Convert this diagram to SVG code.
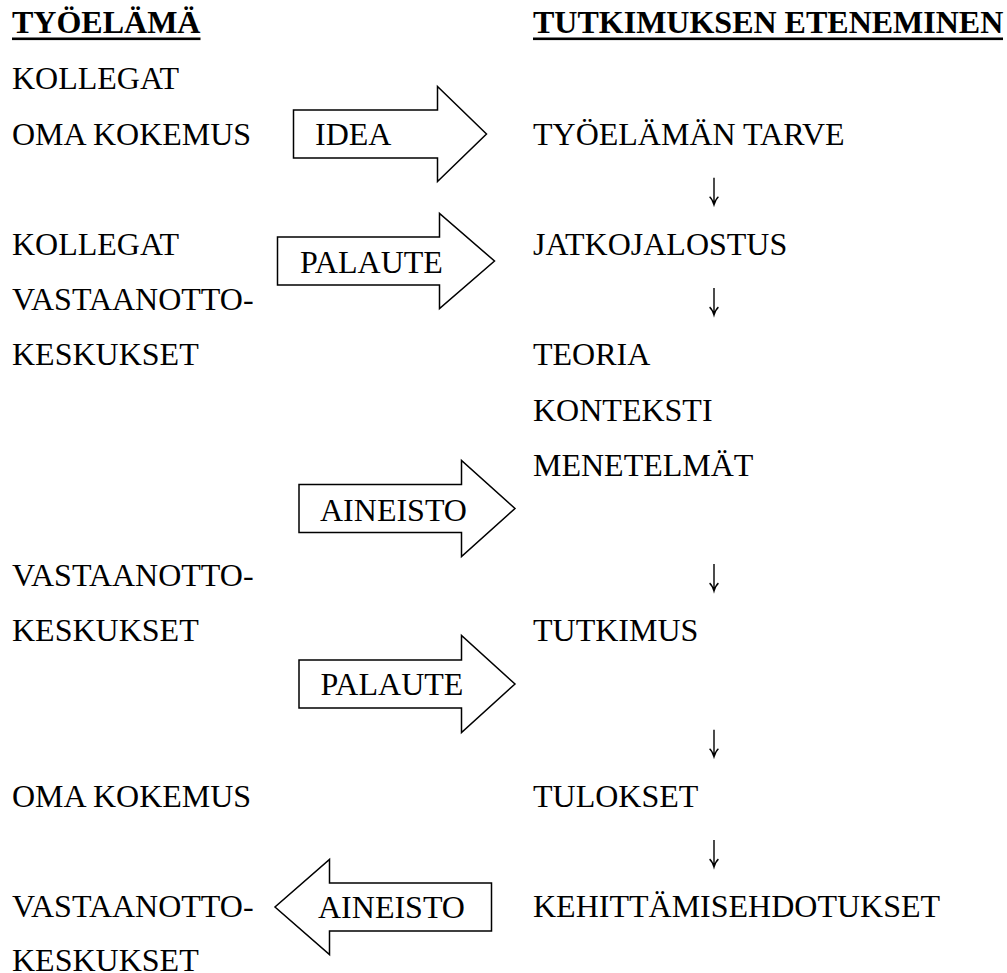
<svg xmlns="http://www.w3.org/2000/svg" width="1007" height="973" viewBox="0 0 1007 973">
<style>
text{font-family:"Liberation Serif","Times New Roman",serif;font-size:32px;font-weight:normal;fill:#000}
text.h{font-weight:bold}
.arr{fill:#fff;stroke:#000;stroke-width:1.5;stroke-linejoin:miter}
.dn{fill:none;stroke:#000;stroke-width:1.4}
</style>
<defs>
<g id="down"><path class="dn" d="M714,-22 V4.5 M709.6,-3 Q712.5,-0.5 714,5 Q715.5,-0.5 718.4,-3"/></g>
</defs>
<rect x="0" y="0" width="1007" height="973" fill="#fff"/>
<g id="heading-left"><text class="h" x="12" y="33">TYÖELÄMÄ</text><rect x="12" y="37.5" width="188.5" height="2.6" fill="#000"/></g>
<g id="heading-right"><text class="h" x="533" y="33">TUTKIMUKSEN ETENEMINEN</text><rect x="533" y="37.5" width="470" height="2.6" fill="#000"/></g>
<g id="left-kollegat-1"><text x="12" y="89.3">KOLLEGAT</text></g>
<g id="left-oma-kokemus-1"><text x="12" y="144.5">OMA KOKEMUS</text></g>
<g id="left-kollegat-2"><text x="12" y="254.9">KOLLEGAT</text></g>
<g id="left-vastaanotto-1"><text x="12" y="310.1">VASTAANOTTO-</text><text x="12" y="365.3">KESKUKSET</text></g>
<g id="left-vastaanotto-2"><text x="12" y="586.1">VASTAANOTTO-</text><text x="12" y="641.3">KESKUKSET</text></g>
<g id="left-oma-kokemus-2"><text x="12" y="806.9">OMA KOKEMUS</text></g>
<g id="left-vastaanotto-3"><text x="12" y="917.3">VASTAANOTTO-</text><text x="12" y="970.5">KESKUKSET</text></g>
<g id="right-tarve"><text x="533" y="144.5">TYÖELÄMÄN TARVE</text></g>
<g id="right-jatkojalostus"><text x="533" y="254.9">JATKOJALOSTUS</text></g>
<g id="right-teoria"><text x="533" y="365.3">TEORIA</text><text x="533" y="420.5">KONTEKSTI</text><text x="533" y="475.7">MENETELMÄT</text></g>
<g id="right-tutkimus"><text x="533" y="641.3">TUTKIMUS</text></g>
<g id="right-tulokset"><text x="533" y="806.9">TULOKSET</text></g>
<g id="right-kehittamis"><text x="533" y="917.3">KEHITTÄMISEHDOTUKSET</text></g>
<g id="arrow-idea"><polygon class="arr" points="293.5,110 437.5,110 437.5,86.5 486.5,134 437.5,181.5 437.5,158 293.5,158"/><text x="315" y="145">IDEA</text></g>
<g id="arrow-palaute-1"><polygon class="arr" points="277.5,237 439.5,237 439.5,213.5 494.5,261 439.5,308.5 439.5,285 277.5,285"/><text x="300" y="272.5">PALAUTE</text></g>
<g id="arrow-aineisto-1"><polygon class="arr" points="299,484.5 461.5,484.5 461.5,460.5 515,508.5 461.5,556.5 461.5,532.5 299,532.5"/><text x="320" y="521">AINEISTO</text></g>
<g id="arrow-palaute-2"><polygon class="arr" points="299,660 461.5,660 461.5,635.5 515,684 461.5,732.5 461.5,708 299,708"/><text x="320.5" y="695">PALAUTE</text></g>
<g id="arrow-aineisto-2"><polygon class="arr" points="491.5,883 329.5,883 329.5,859.5 275,907 329.5,954.5 329.5,931 491.5,931"/><text x="318" y="918">AINEISTO</text></g>
<g id="connectors">
<use href="#down" transform="translate(0,199.7)"/>
<use href="#down" transform="translate(0,310.1)"/>
<use href="#down" transform="translate(0,586.1)"/>
<use href="#down" transform="translate(0,751.7)"/>
<use href="#down" transform="translate(0,862.1)"/>
</g>
</svg>
